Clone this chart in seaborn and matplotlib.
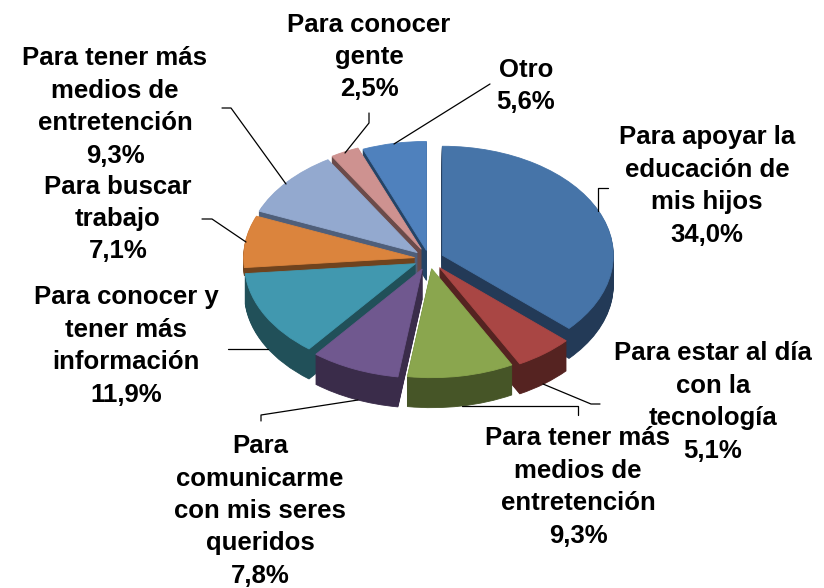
import matplotlib
matplotlib.use("Agg")
import matplotlib.pyplot as plt
from matplotlib.lines import Line2D
from matplotlib.transforms import Affine2D
import seaborn as sns

categories = ["Para apoyar la\neducación de\nmis hijos",
              "Para estar al día\ncon la\ntecnología",
              "Para tener más\nmedios de\nentretención",
              "Para\ncomunicarme\ncon mis seres\nqueridos",
              "Para conocer y\ntener más\ninformación",
              "Para buscar\ntrabajo",
              "Para tener más\nmedios de\nentretención",
              "Para conocer\ngente",
              "Otro"]
values = [34.0, 5.1, 9.3, 7.8, 11.9, 7.1, 9.3, 2.5, 5.6]
top_colors = ["#4674A8", "#A94644", "#8AA64E", "#70588F", "#4198AF",
              "#DB843D", "#93A9CF", "#CE9290", "#4F81BD"]
side_colors = ["#233A57", "#552321", "#465527", "#3A2C4A", "#215059",
               "#6F431E", "#4F5F7A", "#6B4B4A", "#254466"]
explode = [0.085, 0.10, 0.09, 0.10, 0.09, 0.085, 0.09, 0.10, 0.08]
paint_rank = [6, 7, 8, 5, 4, 3, 2, 1, 0]
side_depth = [30, 30, 30, 30, 30, 8, 30, 30, 30]

# label block centres and leader lines, in reference pixels
label_pos = [(707, 186), (713, 402), (578, 487), (260, 511), (126, 346),
             (118, 219), (115, 107), (369, 57), (526, 86)]
leaders = [[(608, 188), (598, 188), (598, 211)],
           [(543, 384), (591, 404), (600, 404)],
           [(462, 406), (578, 406), (578, 415)],
           [(358, 400), (261, 415), (261, 421)],
           [(228, 349), (268, 349)],
           [(202, 219), (212, 219), (246, 242)],
           [(222, 108), (231, 108), (286, 184)],
           [(369, 113), (369, 123), (345, 153)],
           [(490, 84), (394, 144)]]

W, H = 824, 588
CX, CY, RX, RY, DEPTH = 429, 259, 171, 109, 30

sns.set_theme(style="white")
plt.rcParams["font.family"] = ["Liberation Sans", "DejaVu Sans"]

fig = plt.figure(figsize=(W / 100, H / 100), dpi=100)
ax = fig.add_axes([0, 0, 1, 1])


def draw_layer(offset, colors, z):
    wedges, _ = ax.pie(values, explode=explode, colors=colors, startangle=90,
                       counterclock=False, center=(0, -offset / RY),
                       wedgeprops={"linewidth": 0.6, "edgecolor": "none"})
    for i, w in enumerate(wedges):
        w.set_zorder(paint_rank[i] + z)
        w.set_edgecolor(colors[i])
        if offset > side_depth[i]:
            w.set_visible(False)


for d in range(DEPTH, 0, -1):
    draw_layer(d, side_colors, 0.1 + 0.5 * (DEPTH - d) / DEPTH)
draw_layer(0, top_colors, 0.8)

ax.set_aspect("auto")
ax.set_xlim(-CX / RX, (W - CX) / RX)
ax.set_ylim((CY - H) / RY, CY / RY)

px = Affine2D().scale(1 / W, -1 / H).translate(0, 1) + fig.transFigure

for pts in leaders:
    xs, ys = zip(*pts)
    fig.add_artist(Line2D(xs, ys, color="black", lw=0.9, transform=px, zorder=20))

for name, v, (x, y) in zip(categories, values, label_pos):
    pct = f"{v:.1f}%".replace(".", ",")
    fig.text(x, y, f"{name}\n{pct}", transform=px, ha="center", va="center",
             ma="center", fontsize=18.5, fontweight="bold", color="black",
             linespacing=1.445, zorder=30)

fig.savefig("out.png", dpi=100)
